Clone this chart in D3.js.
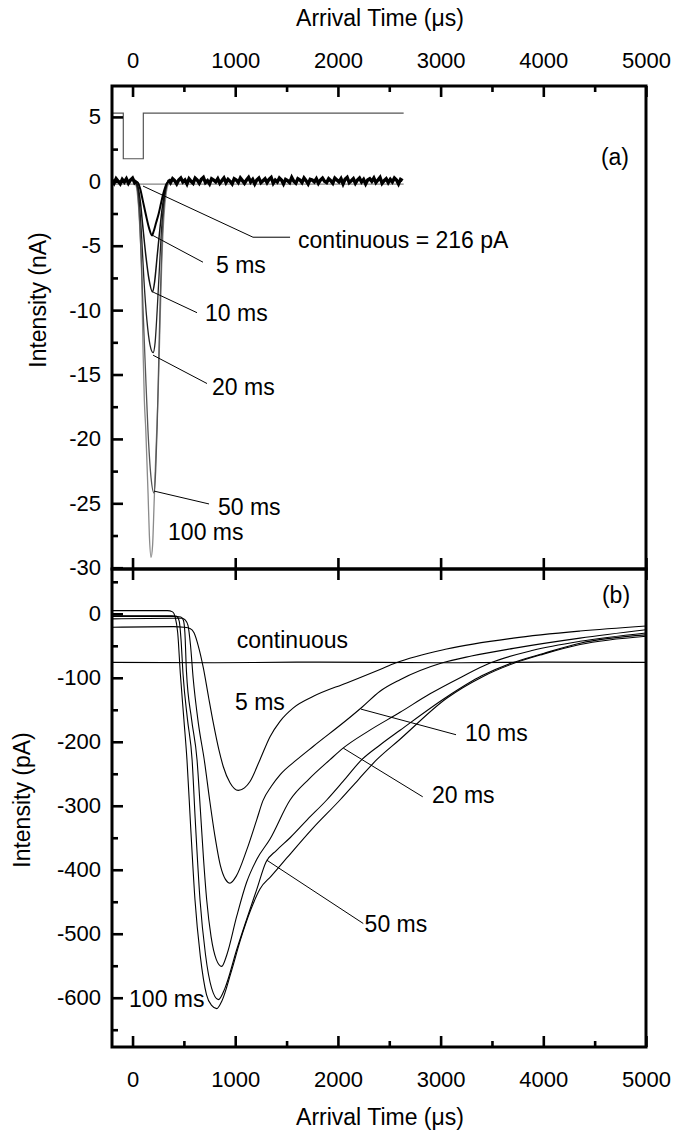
<!DOCTYPE html>
<html><head><meta charset="utf-8">
<script src="https://cdn.jsdelivr.net/npm/d3@7"></script>
<style>body{margin:0;background:#fff}</style>
</head><body><svg id="c" width="693" height="1141"></svg>
<script>
// ---------- tick values ----------
const xTicks = [0, 1000, 2000, 3000, 4000, 5000];
const xMinor = [500, 1500, 2500, 3500, 4500];
const aTicks = [5, 0, -5, -10, -15, -20, -25, -30];
const aMinor = [2.5, -2.5, -7.5, -12.5, -17.5, -22.5, -27.5];
const bTicks = [0, -100, -200, -300, -400, -500, -600];
const bMinor = [50, -50, -150, -250, -350, -450, -550, -650];

// ---------- panel (a) data: x in us, y in nA ----------
const aStep = [[-200, 5.3], [-90, 5.3], [-90, 1.75], [105, 1.75], [105, 5.3], [2640, 5.3]];
const aContinuous = [[-200, -0.216], [2640, -0.216]];
// baseline noise readings (sampled every 20 us)
const aNoiseStep = 20;
const aNoiseLeftStart = -200;
const aNoiseLeft = [0.1,-0.15,0.2,0.0,-0.2,0.15,-0.05,0.2,-0.15,0.1,0.25,-0.1,0.05];
const aNoiseRightStart = 350;
const aNoiseRight = [
  0.15,-0.1,0.2,0.05,-0.2,0.1,0.25,-0.05,0.1,-0.2,0.2,0.0,-0.15,0.25,0.1,-0.15,0.15,0.3,-0.1,0.05,
  -0.2,0.2,0.1,-0.05,0.2,-0.15,0.05,0.25,-0.1,0.15,0.0,-0.2,0.2,0.1,-0.1,0.25,0.05,-0.15,0.1,0.3,
  -0.05,0.15,-0.2,0.1,0.25,-0.1,0.05,0.2,-0.1,0.15,0.3,-0.15,0.1,-0.05,0.25,0.1,-0.2,0.15,0.05,-0.1,
  0.3,0.0,-0.15,0.2,0.1,-0.1,0.25,0.05,-0.2,0.15,0.1,-0.05,0.2,-0.15,0.1,0.25,0.0,-0.1,0.2,0.05,
  -0.15,0.25,0.1,-0.05,0.2,-0.2,0.15,0.3,-0.1,0.05,0.2,-0.15,0.1,0.25,-0.05,0.15,-0.2,0.1,0.2,0.0,
  0.25,-0.1,0.1,0.3,-0.15,0.05,0.2,-0.1,0.15,-0.05,0.25,0.1,-0.2,0.15,0.05];
const a5 = [[20,0],[50,-0.1],[75,-0.6],[100,-1.5],[130,-2.6],[160,-3.6],[190,-4.2],[205,-3.9],[230,-3.2],[255,-2.5],[280,-1.6],[305,-0.8],[330,-0.2],[360,0.05],[380,0.1]];
const a10 = [[20,0],[50,-0.3],[75,-1.5],[100,-3.5],[130,-5.8],[160,-7.6],[195,-8.6],[215,-7.8],[240,-5.8],[265,-3.8],[290,-2],[315,-0.8],[340,-0.1],[370,0]];
const a20 = [[20,0],[50,-0.5],[70,-2],[90,-4.5],[110,-7.5],[140,-10.8],[170,-12.7],[200,-13.3],[220,-12.5],[240,-10],[260,-7],[280,-4],[300,-2],[325,-0.6],[350,0],[380,0]];
const a50 = [[20,0],[45,-0.5],[65,-2.5],[85,-6],[105,-10.5],[125,-14.5],[150,-19.3],[180,-23],[209,-24.2],[225,-22.5],[240,-19],[255,-14],[270,-9],[288,-4.5],[310,-1.5],[335,-0.3],[365,0]];
const a100 = [[20,0],[45,-0.8],[70,-3.5],[90,-7.7],[102,-13],[115,-17],[129,-19.3],[151,-24.2],[164,-27.5],[180,-29.2],[195,-28.3],[210,-25],[230,-20.5],[251,-16],[268,-11],[284,-6.5],[305,-2.8],[330,-0.8],[360,0]];

// ---------- panel (b) data: x in us, y in pA ----------
const bContinuous = [[-200,-76],[800,-76.5],[1600,-75.5],[2400,-76],[3200,-76.5],[4000,-75.5],[5000,-76]];
const b5 = [[-200,-21],[400,-20],[500,-21],[560,-23],[600,-30],[640,-50],[690,-85],[740,-130],[787,-171],[840,-212],[884,-239],[949,-264],[1030,-276],[1090,-272],[1144,-262],[1241,-228],[1339,-192],[1436,-168],[1566,-147],[1761,-129],[2085,-108],[2410,-87],[2560,-77],[3059,-55],[3708,-38],[4357,-27],[5000,-19]];
const b10 = [[-200,-8],[400,-7],[480,-7],[515,-10],[540,-18],[565,-50],[590,-100],[640,-170],[700,-230],[750,-290],[800,-345],[855,-393],[905,-415],[949,-421],[1010,-410],[1112,-369],[1209,-322],[1270,-292],[1350,-270],[1440,-251],[1600,-228],[1761,-207],[2085,-166],[2234,-146],[2410,-121],[2605,-103],[3010,-77],[3300,-66],[3708,-54],[4357,-38],[5000,-25]];
const b20 = [[-200,-4],[400,-4],[470,-5],[495,-10],[510,-30],[525,-90],[575,-165],[628,-228],[660,-305],[690,-380],[722,-447],[765,-505],[815,-540],[868,-551],[920,-532],[1014,-473],[1110,-420],[1209,-384],[1339,-352],[1534,-291],[1720,-258],[1923,-228],[2050,-210],[2300,-183],[2605,-154],[2897,-125],[3200,-99],[3481,-77],[3900,-57],[4357,-43],[5000,-30]];
const b50 = [[-200,-3],[380,-3],[430,-4],[455,-12],[472,-40],[492,-95],[535,-165],[580,-228],[610,-320],[657,-447],[710,-532],[770,-585],[836,-603],[900,-585],[1014,-525],[1110,-478],[1209,-431],[1300,-388],[1400,-370],[1534,-350],[1700,-322],[1891,-291],[2050,-262],[2232,-228],[2410,-205],[2605,-182],[3059,-130],[3400,-97],[3690,-77],[4000,-62],[4357,-46],[5000,-33]];
const b100 = [[-200,5],[340,5],[390,3],[415,-5],[440,-30],[466,-95],[500,-165],[530,-228],[565,-330],[608,-447],[660,-535],[720,-595],[770,-612],[820,-617],[870,-605],[960,-560],[1050,-510],[1150,-463],[1241,-430],[1350,-410],[1500,-382],[1750,-336],[2020,-291],[2200,-259],[2378,-228],[2605,-196],[3059,-132],[3400,-99],[3720,-77],[4000,-63],[4357,-48],[5000,-35]];

// ---------- annotations (data coordinates) ----------
const annA = [
  {text:"continuous = 216 pA", x:1612, y:-4.56, line:[[102,-0.37],[1173,-4.34],[1534,-4.34]]},
  {text:"5 ms", x:813, y:-6.5, line:[[190,-4.17],[686,-6.28]]},
  {text:"10 ms", x:706, y:-10.2, line:[[200,-8.6],[628,-10.2]]},
  {text:"20 ms", x:774, y:-16, line:[[200,-13.5],[725,-15.7]]},
  {text:"50 ms", x:832, y:-25.3, line:[[209,-24.05],[745,-25.05]]},
  {text:"100 ms", x:346, y:-27.2},
  {text:"(a)", x:4698, y:1.87, anchor:"middle"}
];
const annB = [
  {text:"continuous", x:1015, y:-41},
  {text:"5 ms", x:998, y:-137},
  {text:"10 ms", x:3238, y:-186, line:[[2225,-149],[3150,-189]]},
  {text:"20 ms", x:2916, y:-283, line:[[2053,-210],[2826,-286]]},
  {text:"50 ms", x:2260, y:-485, line:[[1307,-385],[2247,-484]]},
  {text:"100 ms", x:-34, y:-602},
  {text:"(b)", x:4708, y:29, anchor:"middle"}
];

// ---------- layout ----------
const FONT = "'Liberation Sans', Arial, sans-serif";
const L = 112, R = 646, AT = 86, MID = 569, BB = 1047;
const x = d3.scaleLinear([-200, 5000], [L, R]);
const ya = d3.scaleLinear([-30.1, 7.4], [MID, AT]);
const yb = d3.scaleLinear([-677, 70], [BB, MID]);

const svg = d3.select("#c");
const defs = svg.append("defs");
defs.append("clipPath").attr("id","ca").append("rect").attr("x",L).attr("y",AT).attr("width",R-L).attr("height",MID-AT);
defs.append("clipPath").attr("id","cb").append("rect").attr("x",L).attr("y",MID).attr("width",R-L).attr("height",BB-MID);

const gA = svg.append("g").attr("clip-path","url(#ca)");
const gB = svg.append("g").attr("clip-path","url(#cb)");

const lineA = d3.line().x(d=>x(d[0])).y(d=>ya(d[1])).curve(d3.curveMonotoneX);
const lineAlin = d3.line().x(d=>x(d[0])).y(d=>ya(d[1]));
const lineB = d3.line().x(d=>x(d[0])).y(d=>yb(d[1])).curve(d3.curveMonotoneX);

// panel a traces
const aTraces = [
  {d:a100, c:"#8a8a8a", w:1.3},
  {d:a50, c:"#555", w:1.3},
  {d:a20, c:"#222", w:1.3},
  {d:a10, c:"#111", w:1.5},
  {d:a5, c:"#000", w:2}
];
gA.append("path").attr("d", lineAlin(aContinuous)).attr("fill","none").attr("stroke","#666").attr("stroke-width",1);
aTraces.forEach(t => gA.append("path").attr("d", lineA(t.d)).attr("fill","none").attr("stroke",t.c).attr("stroke-width",t.w));
const noiseL = aNoiseLeft.map((v,i)=>[aNoiseLeftStart + i*aNoiseStep, v]);
const noiseR = aNoiseRight.map((v,i)=>[aNoiseRightStart + i*aNoiseStep, v]);
[noiseL, noiseR].forEach(n => gA.append("path").attr("d", lineAlin(n)).attr("fill","none").attr("stroke","#000").attr("stroke-width",3.4).attr("stroke-linejoin","miter"));
gA.append("path").attr("d", lineAlin(aStep)).attr("fill","none").attr("stroke","#555").attr("stroke-width",1.2);

// panel b traces
gB.append("path").attr("d", lineB(bContinuous)).attr("fill","none").attr("stroke","#000").attr("stroke-width",1.1);
[b5,b10,b20,b50,b100].forEach(d => gB.append("path").attr("d", lineB(d)).attr("fill","none").attr("stroke","#000").attr("stroke-width",1.1));

// annotations
function annotate(list, ys) {
  list.forEach(a => {
    if (a.line) svg.append("path").attr("d", d3.line().x(d=>x(d[0])).y(d=>ys(d[1]))(a.line))
      .attr("fill","none").attr("stroke","#000").attr("stroke-width",1);
    svg.append("text").attr("x", x(a.x)).attr("y", ys(a.y)).attr("dy","0.35em")
      .attr("text-anchor", a.anchor || "start").attr("font-family",FONT).attr("font-size",23).text(a.text);
  });
}
annotate(annA, ya);
annotate(annB, yb);

// axes
function styleAxis(g) {
  g.select(".domain").remove();
  g.selectAll(".tick line").attr("stroke","#000").attr("stroke-width",2.6);
  g.selectAll(".tick text").attr("font-family",FONT).attr("font-size",22).attr("fill","#000");
}
const fmt = d => String(d);
function addAxis(axis, tx, ty) {
  svg.append("g").attr("transform",`translate(${tx},${ty})`).call(axis).call(styleAxis);
}
// top of (a)
addAxis(d3.axisTop(x).tickValues(xTicks).tickSizeInner(-11).tickSizeOuter(0).tickPadding(18).tickFormat(fmt), 0, AT);
addAxis(d3.axisTop(x).tickValues(xMinor).tickSizeInner(-6).tickSizeOuter(0).tickFormat(""), 0, AT);
// shared boundary
addAxis(d3.axisBottom(x).tickValues(xTicks).tickSizeInner(-11).tickSizeOuter(0).tickFormat(""), 0, MID);
addAxis(d3.axisTop(x).tickValues(xTicks).tickSizeInner(-11).tickSizeOuter(0).tickFormat(""), 0, MID);
// bottom of (b)
addAxis(d3.axisBottom(x).tickValues(xTicks).tickSizeInner(-11).tickSizeOuter(0).tickPadding(24).tickFormat(fmt), 0, BB);
addAxis(d3.axisBottom(x).tickValues(xMinor).tickSizeInner(-6).tickSizeOuter(0).tickFormat(""), 0, BB);
// left axes
addAxis(d3.axisLeft(ya).tickValues(aTicks).tickSizeInner(-11).tickSizeOuter(0).tickPadding(11).tickFormat(fmt), L, 0);
addAxis(d3.axisLeft(ya).tickValues(aMinor).tickSizeInner(-6).tickSizeOuter(0).tickFormat(""), L, 0);
addAxis(d3.axisLeft(yb).tickValues(bTicks).tickSizeInner(-11).tickSizeOuter(0).tickPadding(11).tickFormat(fmt), L, 0);
addAxis(d3.axisLeft(yb).tickValues(bMinor).tickSizeInner(-6).tickSizeOuter(0).tickFormat(""), L, 0);

// frames
svg.append("rect").attr("x",L).attr("y",AT).attr("width",R-L).attr("height",MID-AT).attr("fill","none").attr("stroke","#000").attr("stroke-width",3);
svg.append("rect").attr("x",L).attr("y",MID).attr("width",R-L).attr("height",BB-MID).attr("fill","none").attr("stroke","#000").attr("stroke-width",3);

// axis titles
svg.append("text").attr("x",380).attr("y",18).attr("dy","0.35em").attr("text-anchor","middle").attr("font-family",FONT).attr("font-size",23).text("Arrival Time (μs)");
svg.append("text").attr("x",380).attr("y",1117).attr("dy","0.35em").attr("text-anchor","middle").attr("font-family",FONT).attr("font-size",23).text("Arrival Time (μs)");
svg.append("text").attr("transform","translate(38,300) rotate(-90)").attr("dy","0.35em").attr("text-anchor","middle").attr("font-family",FONT).attr("font-size",23).text("Intensity (nA)");
svg.append("text").attr("transform","translate(22,800) rotate(-90)").attr("dy","0.35em").attr("text-anchor","middle").attr("font-family",FONT).attr("font-size",23).text("Intensity (pA)");
</script></body></html>
